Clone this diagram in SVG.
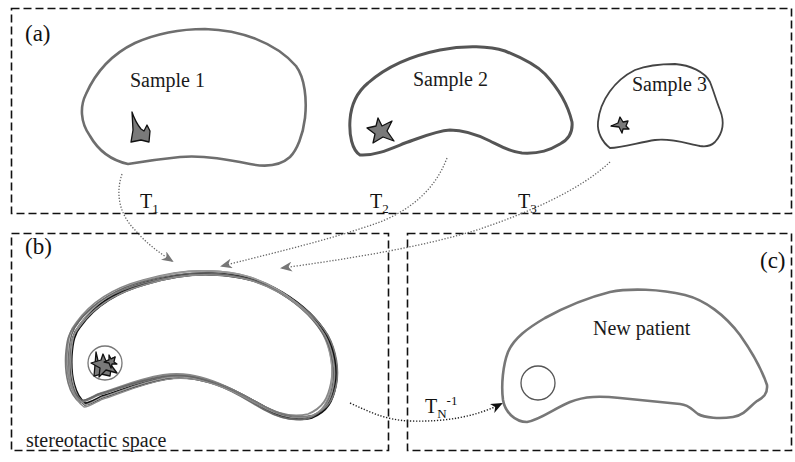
<svg xmlns="http://www.w3.org/2000/svg" xmlns:xlink="http://www.w3.org/1999/xlink" width="795" height="462" viewBox="0 0 795 462">
  <style>
    .frame { fill: none; stroke: #111; stroke-width: 1.6; stroke-dasharray: 8 4; }
    .panel { font-size: 23px; fill: #111; }
    .name { font-size: 20px; fill: #1a1a1a; }
    .tx { font-size: 20px; fill: #111; }
    .sub { font-size: 13px; }
    .conn { fill: none; stroke: #666; stroke-width: 1.3; stroke-dasharray: 1.3 1.7; }
    .conn-k { fill: none; stroke: #222; stroke-width: 1.4; stroke-dasharray: 1.3 1.7; }
    .lesion { fill: #7a7a7a; stroke: #111; stroke-width: 1.3; stroke-linejoin: round; }
  </style>
  <defs>
    <marker id="ahGray" viewBox="0 0 12 10" refX="10" refY="5" markerWidth="12" markerHeight="10" markerUnits="userSpaceOnUse" orient="auto">
      <path d="M0,0 L12,5 L0,10 L3.5,5 Z" fill="#777"/>
    </marker>
    <marker id="ahBlack" viewBox="0 0 12 10" refX="10" refY="5" markerWidth="12" markerHeight="10" markerUnits="userSpaceOnUse" orient="auto">
      <path d="M0,0 L12,5 L0,10 L3.5,5 Z" fill="#111"/>
    </marker>
    <path id="atlas" d="M83,403 C72,395 68,375 69,355 C70,340 72,332 78,325 C92,305 115,290 145,282 C170,275 190,272 210,273 C240,274 260,280 280,292 C300,304 315,318 325,335 C333,350 336,370 333,385 C330,400 325,410 310,416 C295,420 280,416 265,408 C250,400 235,390 215,383 C200,378 185,374 165,377 C140,381 120,390 100,396 C92,400 87,403 83,403 Z"/>
  </defs>

  <rect width="795" height="462" fill="#fff"/>

  <!-- panel frames -->
  <g id="frames">
    <rect class="frame" x="11.5" y="8.5" width="780" height="205"/>
    <rect class="frame" x="11.5" y="233.5" width="377" height="217"/>
    <rect class="frame" x="407.5" y="233.5" width="384" height="217"/>
  </g>

  <!-- panel letters -->
  <g id="panel-labels" font-family="Liberation Serif, serif">
    <text class="panel" x="25" y="41">(a)</text>
    <text class="panel" x="25" y="254">(b)</text>
    <text class="panel" x="760" y="268">(c)</text>
  </g>

  <!-- sample 1 -->
  <g id="sample1" font-family="Liberation Serif, serif">
    <path d="M128,164 C110,160 98,150 90,136 C80,122 80,106 86,94 C94,76 108,56 135,43 C160,32 185,29 205,29 C240,30 275,42 296,66 C305,78 307,100 305,118 C303,135 297,150 290,157 C280,166 265,167 250,164 C230,160 205,155 180,157 C160,159 140,162 128,164 Z" fill="none" stroke="#6e6e6e" stroke-width="2.6"/>
    <path class="lesion" d="M132,112 C134,118 137,124 141,129 L144,131 L147,125 L150,131 L149,142 L141,140 L131,142 L133,130 Z"/>
    <text class="name" x="130" y="87">Sample 1</text>
  </g>

  <!-- sample 2 -->
  <g id="sample2" font-family="Liberation Serif, serif">
    <path d="M360,155 C352,150 349,135 350,120 C351,105 356,93 368,83 C385,68 410,56 440,50 C465,45 490,46 505,51 C520,57 535,64 545,74 C558,88 568,105 572,122 C573,133 568,140 560,144 C550,150 540,154 522,153 C510,152 500,146 490,141 C478,135 465,130 450,130 C435,131 420,138 405,143 C390,149 375,156 360,155 Z" fill="none" stroke="#555" stroke-width="3"/>
    <path class="lesion" d="M378,118 L382,126 L392,121 L387,131 L394,141 L383,137 L373,143 L375,134 L367,128 L376,126 Z"/>
    <text class="name" x="413" y="86">Sample 2</text>
  </g>

  <!-- sample 3 -->
  <g id="sample3" font-family="Liberation Serif, serif">
    <path d="M610,148 C602,142 597,132 598,122 C600,100 615,80 635,70 C648,65 662,64 675,64 C690,65 705,72 710,82 C714,92 716,100 720,110 C724,120 724,132 715,142 C711,146 706,147 700,146 C685,143 670,138 655,140 C640,142 622,148 610,148 Z" fill="none" stroke="#444" stroke-width="1.8"/>
    <path class="lesion" d="M620,117 L623,122 L628,121 L626,126 L629,129 L623,129 L622,133 L619,127 L611,126 L618,123 Z"/>
    <text class="name" x="632" y="91">Sample 3</text>
  </g>

  <!-- stereotactic atlas: overlaid registered outlines -->
  <g id="atlas-space" font-family="Liberation Serif, serif">
    <use xlink:href="#atlas" fill="none" stroke="#111" stroke-width="3.4" transform="translate(2,1)"/>
    <use xlink:href="#atlas" fill="none" stroke="#888" stroke-width="1.8" transform="translate(-2,-2)"/>
    <use xlink:href="#atlas" fill="none" stroke="#777" stroke-width="1.6" transform="translate(201,369) scale(1.025,0.985) translate(-201,-369)"/>
    <use xlink:href="#atlas" fill="none" stroke="#999" stroke-width="1.5" transform="translate(201,345) scale(0.985,1.03) translate(-201,-345)"/>
    <use xlink:href="#atlas" fill="none" stroke="#666" stroke-width="1.4" transform="rotate(1.2 201 345)"/>
    <use xlink:href="#atlas" fill="none" stroke="#8c8c8c" stroke-width="1.4" transform="rotate(-1 201 345) translate(0,2)"/>
    <circle cx="105" cy="363" r="17" fill="#fff" stroke="#777" stroke-width="1.3"/>
    <path class="lesion" d="M96,352 L99,365 L106,368 L108,362 L111,369 L110,376 L101,374 L94,376 L95,365 Z" fill="#8a8a8a"/>
    <path class="lesion" d="M103,354 L106,361 L115,357 L111,365 L117,373 L106,370 L99,377 L100,368 L91,363 L101,360 Z"/>
    <path class="lesion" d="M109,355 L111,359 L115,357 L114,362 L117,364 L112,364 L111,368 L109,363 L104,362 L109,360 Z" fill="#999"/>
    <text class="name" x="26" y="447">stereotactic space</text>
  </g>

  <!-- new patient -->
  <g id="new-patient" font-family="Liberation Serif, serif">
    <path d="M527,422 C515,422 505,412 503,400 C501,385 503,365 508,352 C514,338 528,328 545,318 C565,307 590,297 610,292 C630,288 660,289 685,295 C705,300 725,315 740,335 C752,352 762,370 767,385 C768,395 762,398 757,401 C750,406 745,415 733,417 C720,419 705,418 698,414 C692,410 690,405 680,404 C660,402 640,400 620,398 C600,396 585,396 570,402 C555,408 540,420 527,422 Z" fill="none" stroke="#777" stroke-width="2.6"/>
    <circle cx="538" cy="383" r="17" fill="none" stroke="#555" stroke-width="1.3"/>
    <text class="name" x="593" y="335">New patient</text>
  </g>

  <!-- transforms between panels -->
  <g id="connectors">
    <path class="conn" d="M122,174 C115,195 120,215 135,230 C145,242 158,252 172,261" marker-end="url(#ahGray)"/>
    <path class="conn" d="M447,158 C435,190 410,210 380,222 C330,240 265,255 222,266" marker-end="url(#ahGray)"/>
    <path class="conn" d="M610,162 C580,190 530,212 480,229 C420,248 340,260 282,268" marker-end="url(#ahGray)"/>
    <path class="conn-k" d="M350,403 C370,412 385,420 410,421 C445,422 475,417 501,404" marker-end="url(#ahBlack)"/>
  </g>

  <!-- transform labels -->
  <g id="transform-labels" font-family="Liberation Serif, serif">
    <text class="tx" x="140" y="208">T<tspan class="sub" dy="5">1</tspan></text>
    <text class="tx" x="370" y="208">T<tspan class="sub" dy="5">2</tspan></text>
    <text class="tx" x="518" y="208">T<tspan class="sub" dy="5">3</tspan></text>
    <text class="tx" x="425" y="413">T<tspan class="sub" dy="5">N</tspan><tspan class="sub" dy="-13">-1</tspan></text>
  </g>
</svg>
